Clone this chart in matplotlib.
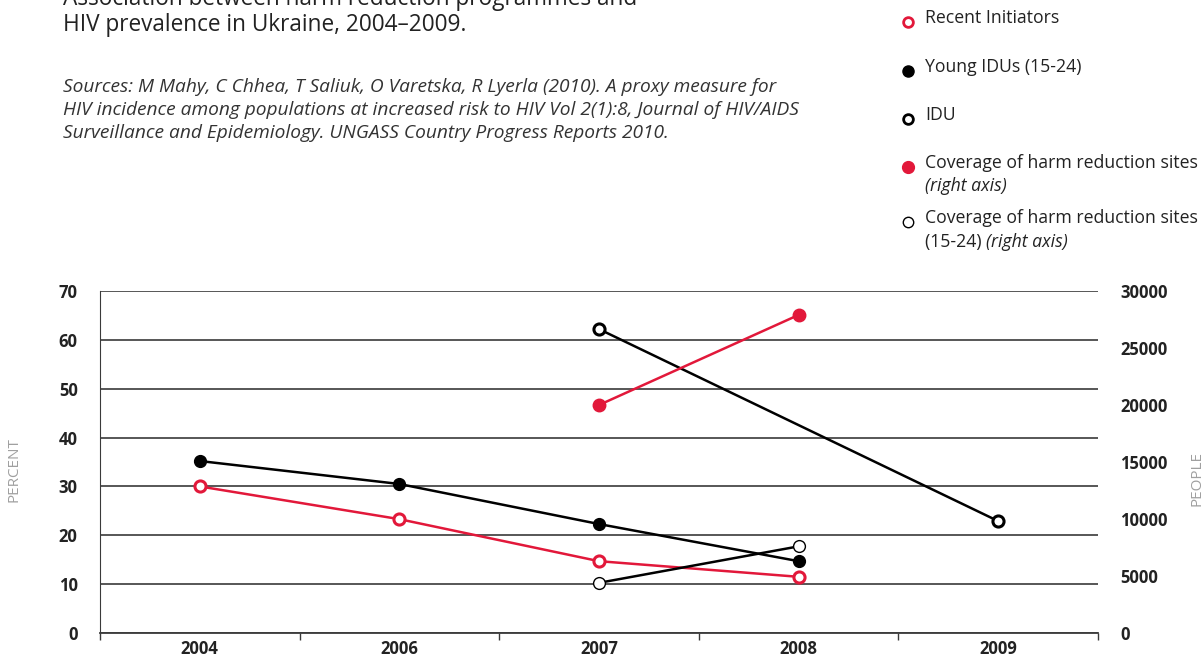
#!/usr/bin/env python
# coding: utf-8

"""
HIV prevalence among IDUs and harm reduction coverage, Ukraine 2004-2009
"""

import matplotlib
matplotlib.use("Agg")
import matplotlib.pyplot as plt
from matplotlib.lines import Line2D
import numpy as np

# --- data -------------------------------------------------------------
years = ["2004", "2006", "2007", "2008", "2009"]

# percent (left axis)
recent_initiators = [30.0, 23.3, 14.7, 11.5, np.nan]
young_idus = [35.2, 30.5, 22.3, 14.7, np.nan]
idu = [np.nan, np.nan, 62.2, np.nan, 22.9]

# people (right axis)
coverage_sites = [np.nan, np.nan, 20000, 27900, np.nan]
coverage_sites_young = [np.nan, np.nan, 4400, 7600, np.nan]

left_ticks = [0, 10, 20, 30, 40, 50, 60, 70]
right_ticks = [0, 5000, 10000, 15000, 20000, 25000, 30000]

title_lines = ["Association between harm reduction programmes and",
               "HIV prevalence in Ukraine, 2004\u20132009."]
source_lines = [
    "Sources: M Mahy, C Chhea, T Saliuk, O Varetska, R Lyerla (2010). A proxy measure for",
    "HIV incidence among populations at increased risk to HIV Vol 2(1):8, Journal of HIV/AIDS",
    "Surveillance and Epidemiology. UNGASS Country Progress Reports 2010.",
]

RED = "#e2183a"
GRID = "#3a3a3a"
TEXT = "#222222"
FONT = "Open Sans"

W, H = 1203, 661


def fx(x):
    return x / W


def fy(y):
    return 1 - y / H


def main():
    plt.rcParams['font.family'] = FONT
    fig = plt.figure(figsize=(W / 100, H / 100), dpi=100)

    ax1 = fig.add_axes([fx(100), fy(633), fx(1098) - fx(100), fy(291) - fy(633)])
    ax2 = ax1.twinx()

    x = np.arange(len(years))

    def series(ax, y, **kw):
        y = np.asarray(y, dtype=float)
        ok = ~np.isnan(y)
        ax.plot(x[ok], y[ok], clip_on=False, zorder=5, **kw)

    series(ax1, recent_initiators, color=RED, lw=1.8, marker="o", ms=8,
           mfc="white", mec=RED, mew=2.2)
    series(ax1, young_idus, color="black", lw=1.8, marker="o", ms=8.5,
           mfc="black", mec="black")
    series(ax1, idu, color="black", lw=1.8, marker="o", ms=8,
           mfc="white", mec="black", mew=2.2)
    series(ax2, coverage_sites, color=RED, lw=1.8, marker="o", ms=9,
           mfc=RED, mec=RED)
    series(ax2, coverage_sites_young, color="black", lw=1.8, marker="o", ms=8.5,
           mfc="white", mec="black", mew=1.0)

    # left axis
    ax1.set_xlim(-0.5, len(years) - 0.5)
    ax1.set_ylim(0, 70)
    ax1.set_yticks(left_ticks)
    ax1.yaxis.grid(True, color=GRID, lw=1.2)
    ax1.set_axisbelow(True)
    ax1.tick_params(axis="y", length=0, pad=16, labelsize=12, labelcolor=TEXT)
    ax1.set_xticks(x)
    ax1.set_xticklabels(years)
    ax1.set_xticks(np.arange(len(years) + 1) - 0.5, minor=True)
    ax1.tick_params(axis="x", which="major", length=0, pad=5, labelsize=12,
                    labelcolor=TEXT)
    ax1.tick_params(axis="x", which="minor", length=5, width=1, color=GRID)
    for lab in ax1.get_xticklabels() + ax1.get_yticklabels():
        lab.set_fontweight("bold")

    # right axis
    ax2.set_ylim(0, 30000)
    ax2.set_yticks(right_ticks)
    ax2.tick_params(axis="y", length=0, pad=16, labelsize=12, labelcolor=TEXT)
    for lab in ax2.get_yticklabels():
        lab.set_fontweight("bold")

    for ax in (ax1, ax2):
        for side in ("top", "right"):
            ax.spines[side].set_visible(False)
    ax2.spines["left"].set_visible(False)
    ax2.spines["bottom"].set_visible(False)
    ax1.spines["left"].set_color(GRID)
    ax1.spines["bottom"].set_color(GRID)
    ax1.spines["bottom"].set_linewidth(1.3)

    fig.text(fx(14), fy(470), "PERCENT", rotation=90, color="#a0a0a0",
             fontsize=11, ha="center", va="center")
    fig.text(fx(1197), fy(478), "PEOPLE", rotation=90, color="#a0a0a0",
             fontsize=11, ha="center", va="center")

    # title and sources
    fig.text(fx(63), fy(5), title_lines[0], fontsize=16.3, color=TEXT,
             va="baseline")
    fig.text(fx(63), fy(31), title_lines[1], fontsize=16.3, color=TEXT,
             va="baseline")
    for i, line in enumerate(source_lines):
        fig.text(fx(63), fy(92 + 23 * i), line, fontsize=13.8, style="italic",
                 color="#333333", va="baseline")

    # legend
    mx, tx = 908, 925
    entries = [
        (21, dict(mfc="white", mec=RED, mew=2.0, ms=7)),
        (70, dict(mfc="black", mec="black", ms=8)),
        (118, dict(mfc="white", mec="black", mew=2.0, ms=7)),
        (166, dict(mfc=RED, mec=RED, ms=8.5)),
        (221, dict(mfc="white", mec="black", mew=1.0, ms=7.5)),
    ]
    for y, kw in entries:
        fig.add_artist(Line2D([fx(mx)], [fy(y) - 0.002], marker="o",
                              transform=fig.transFigure, ls="none", **kw))
    kw = dict(fontsize=12.7, color=TEXT, va="baseline")
    fig.text(fx(tx), fy(23), "Recent Initiators", **kw)
    fig.text(fx(tx), fy(72), "Young IDUs (15-24)", **kw)
    fig.text(fx(tx), fy(120), "IDU", **kw)
    fig.text(fx(tx), fy(168), "Coverage of harm reduction sites", **kw)
    fig.text(fx(tx), fy(191), "(right axis)", style="italic", **kw)
    fig.text(fx(tx), fy(223), "Coverage of harm reduction sites", **kw)
    t = fig.text(fx(tx), fy(247), "(15-24) ", **kw)
    ax2.annotate("(right axis)", xy=(1, 0), xycoords=t, style="italic",
                 fontsize=12.7, color=TEXT, va="bottom", ha="left",
                 annotation_clip=False)

    fig.savefig("out.png", dpi=100)


if __name__ == "__main__":
    main()
